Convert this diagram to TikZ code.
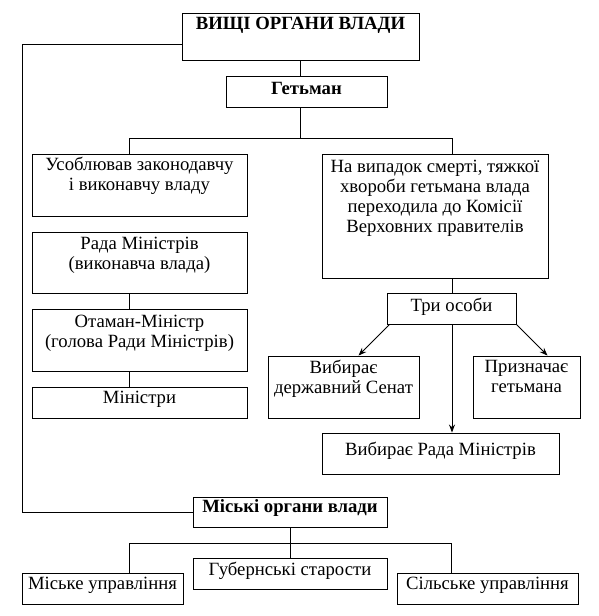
\documentclass[tikz,border=0pt]{standalone}
\usepackage{fontspec}
\setmainfont{Liberation Serif}
\usetikzlibrary{arrows.meta}
\begin{document}
\begin{tikzpicture}[x=1pt, y=-1pt, >={Stealth[length=8pt, width=6pt]}, line width=0.9pt,
        box/.style={draw, rectangle, inner sep=0pt},
        txt/.style={font=\fontsize{18.7}{20}\selectfont, align=center, inner sep=0pt, anchor=north}]

    \useasboundingbox (0,0) rectangle (599,616);

    % --- vyshchi orhany ---
    \node[box, minimum width=237pt, minimum height=47pt] (top) at (300.5,36.5) {};
    \node[txt, font=\fontsize{18.7}{20}\selectfont\bfseries] (topt) at ([yshift=-4pt]top.north) {ВИЩІ ОРГАНИ ВЛАДИ};

    \node[box, minimum width=161pt, minimum height=31pt] (getm) at (306.5,91.5) {};
    \node[txt, font=\fontsize{18.7}{20}\selectfont\bfseries] (getmt) at ([yshift=-6pt]getm.north) {Гетьман};

    % --- liva hilka ---
    \node[box, minimum width=215pt, minimum height=62pt] (b1) at (139.5,185) {};
    \node[txt] (b1t) at ([yshift=-3pt]b1.north) {Усоблював законодавчу\\і виконавчу владу};

    \node[box, minimum width=215pt, minimum height=61pt] (b2) at (139.5,262.5) {};
    \node[txt] (b2t) at ([yshift=-5pt]b2.north) {Рада Міністрів\\(виконавча влада)};

    \node[box, minimum width=215pt, minimum height=62pt] (b3) at (139.5,340) {};
    \node[txt] (b3t) at ([yshift=-6pt]b3.north) {Отаман-Міністр\\(голова Ради Міністрів)};

    \node[box, minimum width=215pt, minimum height=31pt] (b4) at (139.5,402.5) {};
    \node[txt] (b4t) at ([yshift=-4pt]b4.north) {Міністри};

    % --- prava hilka ---
    \node[box, minimum width=226pt, minimum height=124pt] (big) at (435,216) {};
    \node[txt] (bigt) at ([yshift=-6pt]big.north) {На випадок смерті, тяжкої\\хвороби гетьмана влада\\переходила до Комісії\\Верховних правителів};

    \node[box, minimum width=129pt, minimum height=31pt] (tri) at (451.5,308.5) {};
    \node[txt] (trit) at ([yshift=-5pt]tri.north) {Три особи};

    \node[box, minimum width=151pt, minimum height=62pt] (senat) at (343.5,387) {};
    \node[txt] (senatt) at ([yshift=-4pt]senat.north) {Вибирає\\державний Сенат};

    \node[box, minimum width=107pt, minimum height=62pt] (pryzn) at (526.5,387) {};
    \node[txt] (pryznt) at ([yshift=-4pt]pryzn.north) {Призначає\\гетьмана};

    \node[box, minimum width=237pt, minimum height=41pt] (rada) at (440.5,453.5) {};
    \node[txt] (radat) at ([yshift=-9pt]rada.north) {Вибирає Рада Міністрів};

    % --- miski orhany ---
    \node[box, minimum width=194pt, minimum height=30pt] (misk) at (290,512) {};
    \node[txt, font=\fontsize{18.7}{20}\selectfont\bfseries] (miskt) at ([yshift=-3pt]misk.north) {Міські органи влади};

    \node[box, minimum width=194pt, minimum height=31pt] (gub) at (290,573.5) {};
    \node[txt] (gubt) at ([yshift=-4pt]gub.north) {Губернські старости};

    \node[box, minimum width=161pt, minimum height=31pt] (mupr) at (102.5,588.5) {};
    \node[txt] (muprt) at ([yshift=-4pt]mupr.north) {Міське управління};

    \node[box, minimum width=181pt, minimum height=31pt] (silsk) at (487.5,588.5) {};
    \node[txt] (silskt) at ([yshift=-4pt]silsk.north) {Сільське управління};

    % --- tochky rozgaluzhennia ---
    \coordinate (lft) at (22,44);
    \coordinate (brL) at (129,138);
    \coordinate (brR) at (452,138);
    \coordinate (bL) at (129,543);
    \coordinate (bR) at (451,543);

    % --- zviazky ---
    \draw ([yshift=-7.5pt]top.west) -- (lft) |- (misk.west);
    \draw (top.south) -- (top.south |- getm.north);
    \draw (getm.south -| top.south) -- (top.south |- brL);
    \draw (b1.north -| brL) -- (brL) -- (brR) -- (big.north -| brR);
    \draw (b2.south -| brL) -- (b3.north -| brL);
    \draw (b3.south -| brL) -- (b4.north -| brL);
    \draw (big.south -| brR) -- (tri.north -| brR);
    \draw[->] ([xshift=3pt]tri.south west) -- ([xshift=15pt]senat.north);
    \draw[->] (tri.south east) -- ([xshift=21pt]pryzn.north);
    \draw[->] (tri.south -| brR) -- (rada.north -| brR);
    \draw (misk.south) -- (gub.north);
    \draw (mupr.north -| bL) -- (bL) -- (bR) -- (silsk.north -| bR);

\end{tikzpicture}
\end{document}
